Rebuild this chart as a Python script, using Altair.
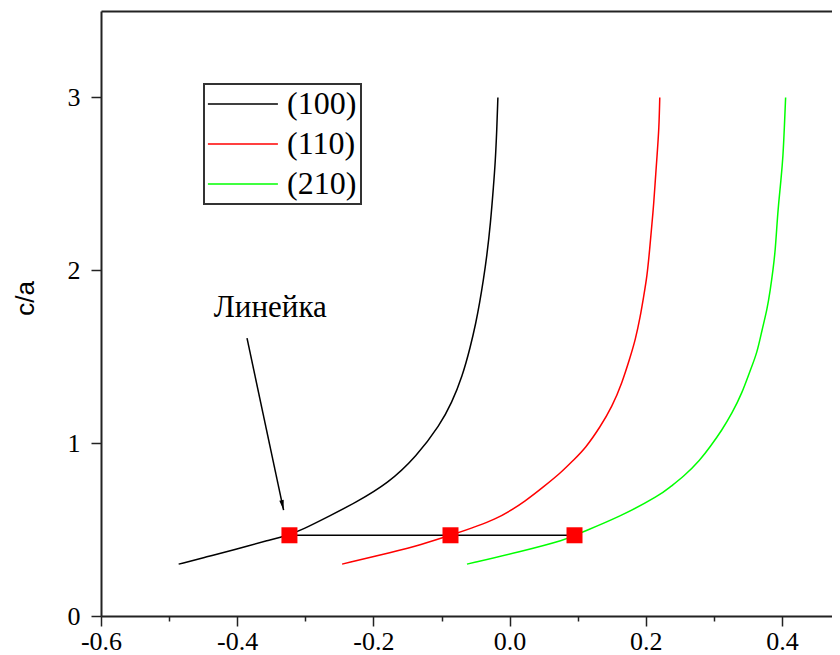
import altair as alt
import pandas as pd

# ---- data ----
series = ["(100)", "(110)", "(210)"]
colors = ["#000000", "#ff0000", "#00ff00"]

x_100 = [-0.486, -0.444, -0.406, -0.352, -0.326, -0.305, -0.262, -0.228, -0.178, -0.137,
         -0.102, -0.085, -0.0695, -0.0575, -0.0495, -0.0440, -0.0385, -0.0335, -0.0280,
         -0.0235, -0.0210, -0.0190, -0.0172]
y_100 = [0.30, 0.343, 0.382, 0.440, 0.467, 0.498, 0.584, 0.652, 0.768, 0.922,
         1.106, 1.233, 1.385, 1.558, 1.696, 1.811, 1.944, 2.079, 2.273,
         2.494, 2.629, 2.793, 3.00]

x_110 = [-0.246, -0.170, -0.131, -0.0868, -0.0185, 0.0256, 0.0499, 0.0745, 0.094, 0.1112,
         0.1332, 0.1504, 0.165, 0.1773, 0.1846, 0.1919, 0.1968, 0.2018, 0.2056, 0.2091,
         0.2115, 0.214, 0.2164, 0.2194, 0.2205]
y_110 = [0.30, 0.372, 0.411, 0.467, 0.556, 0.671, 0.748, 0.826, 0.903, 0.970,
         1.095, 1.211, 1.347, 1.501, 1.597, 1.732, 1.848, 1.964, 2.118, 2.273,
         2.378, 2.523, 2.658, 2.822, 3.00]

x_210 = [-0.0626, 0.0157, 0.0843, 0.0953, 0.1626, 0.2213, 0.2360, 0.2555, 0.2800, 0.2947,
         0.3119, 0.3266, 0.3413, 0.3535, 0.3633, 0.3706, 0.3780, 0.3828, 0.3868, 0.3902,
         0.3927, 0.3950, 0.3985, 0.4015, 0.4034, 0.4053]
y_210 = [0.30, 0.372, 0.444, 0.467, 0.575, 0.700, 0.748, 0.806, 0.903, 0.980,
         1.076, 1.173, 1.289, 1.424, 1.520, 1.655, 1.771, 1.887, 2.002, 2.118,
         2.273, 2.388, 2.523, 2.658, 2.822, 3.00]

ruler_x = [-0.3233, -0.0868, 0.0953]
ruler_y = [0.467, 0.467, 0.467]

note_text = ["Линейка"]
note_x = [-0.3514]
note_y = [1.732]
arrow_x = [-0.3856]
arrow_y = [1.607]
arrow_x2 = [-0.3319]
arrow_y2 = [0.613]

x_major = [-0.6, -0.4, -0.2, 0.0, 0.2, 0.4]
x_minor = [-0.5, -0.3, -0.1, 0.1, 0.3]
y_major = [0, 1, 2, 3]
y_minor = [0.5, 1.5, 2.5, 3.5]

x_domain = [-0.6, 0.4734]
y_domain = [0, 3.5]

# ---- tables ----
rows = []
for name, xs, ys in zip(series, [x_100, x_110, x_210], [y_100, y_110, y_210]):
    for i, (xv, yv) in enumerate(zip(xs, ys)):
        rows.append({"series": name, "x": xv, "y": yv, "i": i})
curves_df = pd.DataFrame(rows)
ruler_df = pd.DataFrame({"x": ruler_x, "y": ruler_y})
note_df = pd.DataFrame({"t": note_text, "x": note_x, "y": note_y})
arrow_df = pd.DataFrame({"x": arrow_x, "y": arrow_y, "x2": arrow_x2, "y2": arrow_y2})

xscale = alt.Scale(domain=x_domain, nice=False, zero=False)
yscale = alt.Scale(domain=y_domain, nice=False, zero=False)

SERIF = "Liberation Serif"
AX = "#222222"

x_axis_main = alt.Axis(
    values=x_major, title=None, grid=False,
    labelExpr="datum.value < 0 ? '-' + format(-datum.value, '.1f') : format(datum.value, '.1f')",
    labelFont=SERIF, labelFontSize=26, labelColor="#000000",
    labelBaseline="alphabetic", labelPadding=23, labelFlush=False, labelOverlap=False,
    tickSize=10, tickWidth=1.5, tickColor=AX, domainColor=AX, domainWidth=2,
)
y_axis_main = alt.Axis(
    values=y_major, format="d", grid=False,
    title="c/a", titleFont="Liberation Sans", titleFontSize=26, titleFontWeight="normal",
    titleColor="#000000", titleAngle=270, titleAlign="center", titleBaseline="middle",
    titleX=-76, titleY=287,
    labelFont=SERIF, labelFontSize=26, labelColor="#000000", labelPadding=11,
    labelFlush=False, labelOverlap=False,
    tickSize=10, tickWidth=1.5, tickColor=AX, domainColor=AX, domainWidth=2,
)
x_axis_minor = alt.Axis(values=x_minor, title=None, labels=False, domain=False, grid=False,
                        tickSize=5, tickWidth=1.5, tickColor=AX)
y_axis_minor = alt.Axis(values=y_minor, title=None, labels=False, domain=False, grid=False,
                        tickSize=5, tickWidth=1.5, tickColor=AX)
x_axis_top = alt.Axis(orient="top", title=None, labels=False, ticks=False, grid=False,
                      domain=True, domainColor=AX, domainWidth=2)

legend = alt.Legend(
    title=None, orient="none", legendX=103, legendY=73,
    symbolType="M-2.3,0H7.7", symbolSize=196, symbolStrokeWidth=1.5,
    labelFont=SERIF, labelFontSize=32, labelColor="#000000", labelLimit=400,
    labelOffset=47, rowPadding=8, padding=4, strokeColor="#333333",
)

curves = alt.Chart(curves_df).mark_line(strokeWidth=1.5, interpolate="basis").encode(
    x=alt.X("x:Q", scale=xscale, axis=x_axis_main),
    y=alt.Y("y:Q", scale=yscale, axis=y_axis_main),
    color=alt.Color("series:N", scale=alt.Scale(domain=series, range=colors), legend=legend),
    order=alt.Order("i:Q"),
)

ruler_line = alt.Chart(ruler_df).mark_line(color="#000000", strokeWidth=1.5).encode(
    x=alt.X("x:Q", scale=xscale, axis=x_axis_top),
    y=alt.Y("y:Q", scale=yscale, axis=None),
)

arrow_line = alt.Chart(arrow_df).mark_rule(color="#000000", strokeWidth=1.5).encode(
    x=alt.X("x:Q", scale=xscale, axis=None),
    y=alt.Y("y:Q", scale=yscale, axis=None),
    x2="x2:Q", y2="y2:Q",
)

arrow_head = alt.Chart(arrow_df).mark_point(
    shape="M0,0L-0.45,-2L0.45,-2Z", size=100, filled=True, color="#000000",
    opacity=1, angle=348,
).encode(
    x=alt.X("x2:Q", scale=xscale, axis=None),
    y=alt.Y("y2:Q", scale=yscale, axis=None),
)

note = alt.Chart(note_df).mark_text(
    font=SERIF, fontSize=31, color="#000000", align="center", baseline="alphabetic",
).encode(
    x=alt.X("x:Q", scale=xscale, axis=None),
    y=alt.Y("y:Q", scale=yscale, axis=None),
    text="t:N",
)

markers = alt.Chart(ruler_df).mark_point(
    shape="square", size=256, filled=True, color="#ff0000", opacity=1,
).encode(
    x=alt.X("x:Q", scale=xscale, axis=x_axis_minor),
    y=alt.Y("y:Q", scale=yscale, axis=y_axis_minor),
)

chart = alt.layer(curves, ruler_line, arrow_line, arrow_head, note, markers).resolve_axis(
    x="independent", y="independent"
).properties(
    width=731, height=605,
    autosize=alt.AutoSizeParams(type="none"),
    padding={"left": 93, "top": 3, "right": 0, "bottom": 44},
    background="#ffffff",
).configure_view(stroke=None).configure_legend(strokeWidth=2)

chart.save("out.html", embed_options={"renderer": "svg", "actions": False})
